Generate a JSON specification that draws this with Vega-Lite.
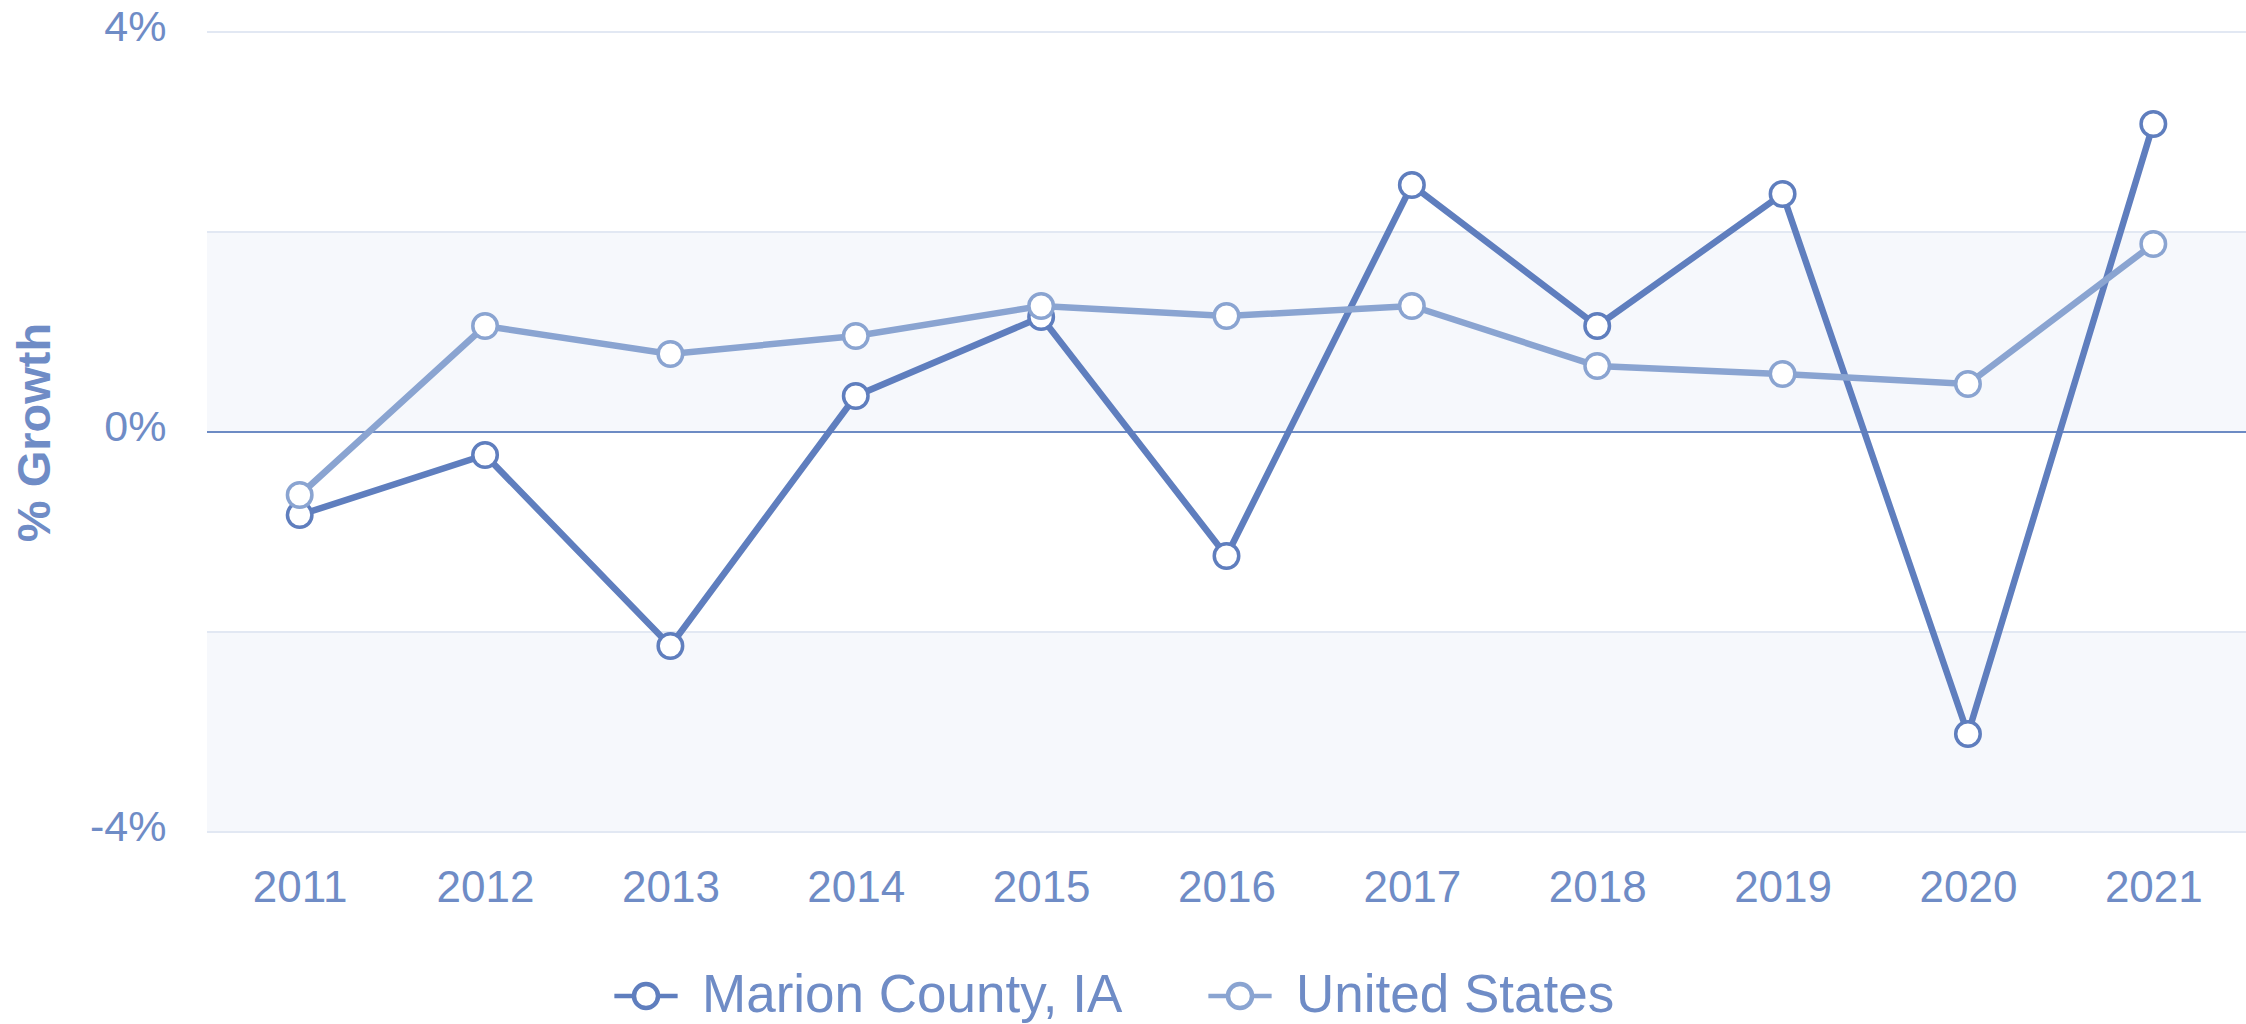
{
  "$schema": "https://vega.github.io/schema/vega-lite/v6.json",
  "width": 2039,
  "height": 800,
  "autosize": {"type": "none"},
  "padding": {"left": 207, "top": 32, "right": 0, "bottom": 192},
  "background": "white",
  "config": {
    "view": {"stroke": null},
    "font": "Liberation Sans",
    "axisY": {"labelFontSize": 43, "labelColor": "#6f8cc6", "labelBaseline": "alphabetic", "labelPadding": 41, "labelOffset": 8,
      "titleFontSize": 47, "titleFontWeight": "bold", "titleColor": "#6f8cc6", "titlePadding": 30},
    "axisX": {"labelFontSize": 44, "labelColor": "#6f8cc6", "labelPadding": 34}
  },
  "datasets": {
    "growth": [
      {"year": "2011", "region": "Marion County, IA", "value": -0.83},
      {"year": "2012", "region": "Marion County, IA", "value": -0.23},
      {"year": "2013", "region": "Marion County, IA", "value": -2.14},
      {"year": "2014", "region": "Marion County, IA", "value": 0.36},
      {"year": "2015", "region": "Marion County, IA", "value": 1.15},
      {"year": "2016", "region": "Marion County, IA", "value": -1.24},
      {"year": "2017", "region": "Marion County, IA", "value": 2.47},
      {"year": "2018", "region": "Marion County, IA", "value": 1.06},
      {"year": "2019", "region": "Marion County, IA", "value": 2.38},
      {"year": "2020", "region": "Marion County, IA", "value": -3.02},
      {"year": "2021", "region": "Marion County, IA", "value": 3.08},
      {"year": "2011", "region": "United States", "value": -0.63},
      {"year": "2012", "region": "United States", "value": 1.06},
      {"year": "2013", "region": "United States", "value": 0.78},
      {"year": "2014", "region": "United States", "value": 0.96},
      {"year": "2015", "region": "United States", "value": 1.26},
      {"year": "2016", "region": "United States", "value": 1.16},
      {"year": "2017", "region": "United States", "value": 1.26},
      {"year": "2018", "region": "United States", "value": 0.66},
      {"year": "2019", "region": "United States", "value": 0.58},
      {"year": "2020", "region": "United States", "value": 0.48},
      {"year": "2021", "region": "United States", "value": 1.88}
    ],
    "bands": [{"y": 2, "y2": 0}, {"y": -2, "y2": -4}],
    "grid": [{"v": 4}, {"v": 2}, {"v": -2}, {"v": -4}],
    "zero": [{"v": 0}]
  },
  "layer": [
    {
      "data": {"name": "bands"},
      "mark": {"type": "rect", "color": "#f6f8fc"},
      "encoding": {
        "y": {
          "field": "y", "type": "quantitative",
          "scale": {"domain": [-4, 4], "nice": false},
          "axis": {"title": "% Growth", "values": [-4, 0, 4], "grid": false, "ticks": false, "domain": false,
            "labelExpr": "datum.value + '%'"}
        },
        "y2": {"field": "y2"}
      }
    },
    {
      "data": {"name": "grid"},
      "mark": {"type": "rule", "color": "#e2e8f3", "strokeWidth": 2},
      "encoding": {"y": {"field": "v", "type": "quantitative"}}
    },
    {
      "data": {"name": "zero"},
      "mark": {"type": "rule", "color": "#6d8bc4", "strokeWidth": 2},
      "encoding": {"y": {"field": "v", "type": "quantitative"}}
    },
    {
      "data": {"name": "growth"},
      "mark": {"type": "line", "strokeWidth": 6.5},
      "encoding": {
        "x": {
          "field": "year", "type": "ordinal", "sort": null,
          "scale": {"type": "point", "padding": 0.5},
          "axis": {"title": null, "ticks": false, "domain": false, "grid": false, "labelAngle": 0}
        },
        "y": {"field": "value", "type": "quantitative"},
        "color": {
          "field": "region", "type": "nominal",
          "scale": {"domain": ["Marion County, IA", "United States"], "range": ["#5f7ebe", "#8aa4d1"]},
          "legend": {
            "orient": "none", "legendX": 405, "legendY": 930, "direction": "horizontal", "title": null,
            "labelFontSize": 53, "labelColor": "#6f8cc6", "labelOffset": 22, "columnPadding": 76, "labelLimit": 800,
            "symbolType": "M-1,0H-0.38M0.38,0H1M0.38,0A0.38,0.38 0 1,1 -0.38,0A0.38,0.38 0 1,1 0.38,0Z",
            "symbolSize": 4000, "symbolStrokeWidth": 4.5, "symbolFillColor": "white",
            "encode": {"symbols": {"update": {"fill": {"value": "white"}}}}
          }
        }
      }
    },
    {
      "data": {"name": "growth"},
      "mark": {"type": "point", "filled": false, "fill": "white", "size": 600, "strokeWidth": 3.5, "opacity": 1},
      "encoding": {
        "x": {"field": "year", "type": "ordinal", "sort": null},
        "y": {"field": "value", "type": "quantitative"},
        "color": {"field": "region", "type": "nominal"}
      }
    }
  ]
}
